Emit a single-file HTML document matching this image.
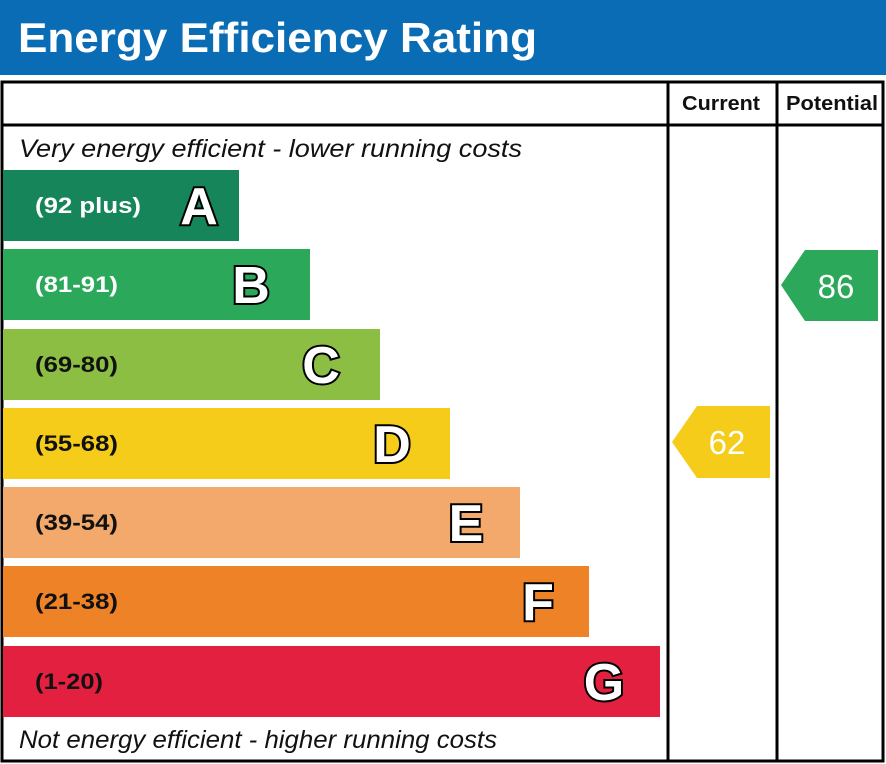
<!DOCTYPE html>
<html><head><meta charset="utf-8"><style>
html,body{margin:0;padding:0;background:#fff;width:886px;height:764px;overflow:hidden}
svg{display:block}
</style></head><body>
<svg width="886" height="764" viewBox="0 0 886 764" xmlns="http://www.w3.org/2000/svg" font-family="Liberation Sans, Arial, sans-serif">
<rect x="0" y="0" width="886" height="75" fill="#0a6cb4"/>
<text x="18" y="52" font-size="42" font-weight="bold" fill="#fff" textLength="519" lengthAdjust="spacingAndGlyphs">Energy Efficiency Rating</text>
<rect x="2" y="82" width="881" height="679" fill="none" stroke="#000" stroke-width="3"/>
<line x1="2" y1="125" x2="883" y2="125" stroke="#000" stroke-width="3"/>
<line x1="668" y1="82" x2="668" y2="761" stroke="#000" stroke-width="3"/>
<line x1="777" y1="82" x2="777" y2="761" stroke="#000" stroke-width="3"/>
<text x="682" y="110" font-size="20" font-weight="bold" fill="#111" textLength="78" lengthAdjust="spacingAndGlyphs">Current</text>
<text x="786" y="110" font-size="20" font-weight="bold" fill="#111" textLength="92" lengthAdjust="spacingAndGlyphs">Potential</text>
<text x="19" y="157" font-size="25" font-style="italic" fill="#111" textLength="503" lengthAdjust="spacingAndGlyphs">Very energy efficient - lower running costs</text>
<text x="19" y="748" font-size="25" font-style="italic" fill="#111" textLength="478" lengthAdjust="spacingAndGlyphs">Not energy efficient - higher running costs</text>
<g font-weight="bold">
<rect x="3" y="170" width="236" height="71" fill="#17855a"/>
<text x="35" y="213" font-size="22" fill="#fff" textLength="106" lengthAdjust="spacingAndGlyphs">(92 plus)</text>
<text x="199" y="224" font-size="52" text-anchor="middle" fill="#fff" stroke="#000" stroke-width="4" paint-order="stroke">A</text>
<rect x="3" y="249" width="307" height="71" fill="#2ba85a"/>
<text x="35" y="292" font-size="22" fill="#fff" textLength="83" lengthAdjust="spacingAndGlyphs">(81-91)</text>
<text x="251" y="303" font-size="52" text-anchor="middle" fill="#fff" stroke="#000" stroke-width="4" paint-order="stroke">B</text>
<rect x="3" y="329" width="377" height="71" fill="#8dbe44"/>
<text x="35" y="372" font-size="22" fill="#111" textLength="83" lengthAdjust="spacingAndGlyphs">(69-80)</text>
<text x="321" y="383" font-size="52" text-anchor="middle" fill="#fff" stroke="#000" stroke-width="4" paint-order="stroke">C</text>
<rect x="3" y="408" width="447" height="71" fill="#f5cc1a"/>
<text x="35" y="451" font-size="22" fill="#111" textLength="83" lengthAdjust="spacingAndGlyphs">(55-68)</text>
<text x="392" y="462" font-size="52" text-anchor="middle" fill="#fff" stroke="#000" stroke-width="4" paint-order="stroke">D</text>
<rect x="3" y="487" width="517" height="71" fill="#f2a96b"/>
<text x="35" y="530" font-size="22" fill="#111" textLength="83" lengthAdjust="spacingAndGlyphs">(39-54)</text>
<text x="466" y="541" font-size="52" text-anchor="middle" fill="#fff" stroke="#000" stroke-width="4" paint-order="stroke">E</text>
<rect x="3" y="566" width="586" height="71" fill="#ee8227"/>
<text x="35" y="609" font-size="22" fill="#111" textLength="83" lengthAdjust="spacingAndGlyphs">(21-38)</text>
<text x="538" y="620" font-size="52" text-anchor="middle" fill="#fff" stroke="#000" stroke-width="4" paint-order="stroke">F</text>
<rect x="3" y="646" width="657" height="71" fill="#e3203f"/>
<text x="35" y="689" font-size="22" fill="#111" textLength="68" lengthAdjust="spacingAndGlyphs">(1-20)</text>
<text x="604" y="700" font-size="52" text-anchor="middle" fill="#fff" stroke="#000" stroke-width="4" paint-order="stroke">G</text>
</g>
<polygon points="781,285 805,250 878,250 878,321 805,321" fill="#2ba85a"/>
<text x="836" y="298" font-size="33" text-anchor="middle" fill="#fff">86</text>
<polygon points="672,442 697,406 770,406 770,478 697,478" fill="#f5cc1a"/>
<text x="727" y="454" font-size="33" text-anchor="middle" fill="#fff">62</text>
</svg>
</body></html>
